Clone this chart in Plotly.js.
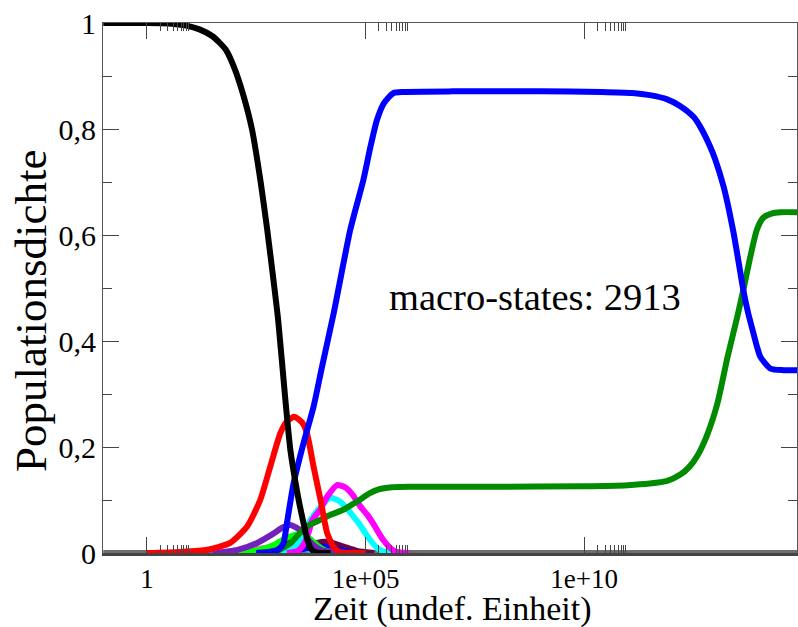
<!DOCTYPE html>
<html>
<head>
<meta charset="utf-8">
<script src="https://cdn.plot.ly/plotly-3.0.1.min.js"></script>
<style>html,body{margin:0;padding:0;background:#fff;}#chart{width:798px;height:627px;}</style>
</head>
<body>
<div id="chart"></div>
<script>
// log10(time) sample positions and population densities
const blackT = [-1, 0, 0.5, 0.9, 1.2, 1.5, 1.8, 2.0, 2.2, 2.4, 2.6, 2.75, 2.9, 3.0, 3.16, 3.28, 3.44, 3.55, 3.67, 3.75, 3.85, 4.0, 4.2];
const blackY = [1, 1, 0.999, 0.995, 0.988, 0.975, 0.95, 0.915, 0.865, 0.8, 0.7, 0.61, 0.51, 0.44, 0.294, 0.194, 0.113, 0.068, 0.025, 0.008, 0.002, 0, 0];

const redT = [0, 0.76, 1.38, 1.9, 2.29, 2.59, 2.82, 3.05, 3.2, 3.37, 3.55, 3.66, 3.81, 3.97, 4.12, 4.27, 4.42, 4.7, 5];
const redY = [0, 0.002, 0.006, 0.019, 0.05, 0.1, 0.163, 0.226, 0.248, 0.257, 0.246, 0.226, 0.163, 0.1, 0.038, 0.011, 0.002, 0, 0];

const blueT = [2.5, 2.8, 3.0, 3.12, 3.2, 3.35, 3.58, 3.81, 4.0, 4.27, 4.65, 4.95, 5.11, 5.26, 5.42, 5.64, 5.87, 7, 9, 10.4, 11.1, 11.5, 11.9, 12.2, 12.5, 12.65, 12.88, 13.0, 13.19, 13.3, 13.42, 13.53, 13.64, 13.75, 13.87, 13.95, 14.03, 14.26, 14.56, 14.87];
const blueY = [0, 0.002, 0.006, 0.018, 0.056, 0.13, 0.207, 0.276, 0.35, 0.452, 0.61, 0.704, 0.766, 0.817, 0.849, 0.868, 0.87, 0.871, 0.871, 0.87, 0.868, 0.864, 0.856, 0.843, 0.823, 0.805, 0.767, 0.742, 0.691, 0.652, 0.603, 0.55, 0.496, 0.453, 0.415, 0.39, 0.37, 0.348, 0.345, 0.345];

const greenT = [2.5, 3.0, 3.3, 3.5, 3.7, 4.0, 4.2, 4.5, 4.8, 5.1, 5.3, 5.6, 6, 8, 10, 11, 11.5, 11.9, 12.2, 12.4, 12.6, 12.8, 13.05, 13.28, 13.5, 13.65, 13.8, 13.95, 14.1, 14.3, 14.5, 14.87];
const greenY = [0, 0.005, 0.02, 0.038, 0.052, 0.064, 0.072, 0.082, 0.097, 0.113, 0.12, 0.124, 0.125, 0.125, 0.126, 0.128, 0.131, 0.136, 0.148, 0.162, 0.185, 0.22, 0.283, 0.37, 0.445, 0.5, 0.559, 0.61, 0.633, 0.641, 0.643, 0.643];

const magentaT = [3.2, 3.45, 3.6, 3.7, 3.77, 3.87, 3.97, 4.12, 4.35, 4.55, 4.72, 4.88, 5.04, 5.18, 5.3, 5.41, 5.57, 5.7, 6];
const magentaY = [0, 0.004, 0.018, 0.04, 0.06, 0.072, 0.083, 0.106, 0.128, 0.123, 0.108, 0.088, 0.072, 0.055, 0.038, 0.024, 0.009, 0.002, 0];

const cyanT = [3.0, 3.3, 3.45, 3.58, 3.74, 3.97, 4.19, 4.4, 4.58, 4.73, 4.88, 5.0, 5.1, 5.26, 5.4, 5.7];
const cyanY = [0, 0.006, 0.018, 0.037, 0.062, 0.087, 0.104, 0.098, 0.083, 0.068, 0.052, 0.037, 0.025, 0.01, 0.003, 0];

const indigoT = [1.5, 2.07, 2.52, 2.9, 3.1, 3.28, 3.51, 3.74, 3.97, 4.3, 4.8];
const indigoY = [0, 0.006, 0.019, 0.037, 0.048, 0.053, 0.043, 0.02, 0.006, 0.001, 0];

const limeT = [2.0, 2.6, 2.9, 3.15, 3.45, 3.7, 3.9, 4.1, 4.5];
const limeY = [0, 0.006, 0.015, 0.027, 0.035, 0.028, 0.014, 0.004, 0];

const rosyT = [1.8, 2.4, 2.9, 3.3, 3.7, 4.0, 4.3, 4.7, 5.2];
const rosyY = [0, 0.006, 0.012, 0.016, 0.017, 0.014, 0.009, 0.003, 0];

const maroonT = [3.0, 3.5, 3.8, 4.0, 4.2, 4.5, 4.8, 5.2];
const maroonY = [0, 0.008, 0.017, 0.021, 0.02, 0.012, 0.004, 0];

const turquoiseT = [1.5, 2.2, 2.8, 3.2, 3.6, 4.0, 4.5];
const turquoiseY = [0, 0.004, 0.009, 0.011, 0.008, 0.003, 0];

const smallBlueT = [3.0, 3.6, 4.0, 4.3, 4.7];
const smallBlueY = [0, 0.008, 0.012, 0.008, 0];

const smallBlackT = [2.6, 3.0, 3.3, 3.6, 3.9, 4.3];
const smallBlackY = [0, 0.012, 0.02, 0.018, 0.008, 0];

const restT = [-1, 3, 6, 10, 14.87];
const restY = [0, 0, 0, 0, 0];

// axis ticks
const xTickVals = [1, 1e5, 1e10];
const xTickText = ["1", "1e+05", "1e+10"];
const xMinorVals = [2, 3, 4, 5, 6, 7, 8, 9, 2e5, 3e5, 4e5, 5e5, 6e5, 7e5, 8e5, 9e5, 2e10, 3e10, 4e10, 5e10, 6e10, 7e10, 8e10, 9e10];

const toTime = ts => ts.map(t => Math.pow(10, t));

function series(t, y, color, width) {
  return {
    x: toTime(t), y: y, type: 'scatter', mode: 'lines',
    line: {color: color, width: width || 6, shape: 'spline', smoothing: 0.6},
    hoverinfo: 'skip', showlegend: false
  };
}

const traces = [
  series(restT, restY, '#6e6e6e', 6),
  series(turquoiseT, turquoiseY, '#40e0d0'),
  series(rosyT, rosyY, '#bc8f8f'),
  series(maroonT, maroonY, '#670748'),
  series(smallBlueT, smallBlueY, '#0000ff'),
  series(smallBlackT, smallBlackY, '#000000'),
  series(limeT, limeY, '#00ff00'),
  series(indigoT, indigoY, '#7221bc'),
  series(cyanT, cyanY, '#00ffff'),
  series(magentaT, magentaY, '#ff00ff'),
  series(greenT, greenY, '#008b00'),
  series(redT, redY, '#ff0000'),
  series(blueT, blueY, '#0000ff'),
  series(blackT, blackY, '#000000')
];

const xRange = [-1.006, 14.868];
const serif = 'Liberation Serif, Times New Roman, serif';

const layout = {
  width: 798, height: 627,
  margin: {l: 103, r: 1, t: 23, b: 74},
  paper_bgcolor: '#ffffff', plot_bgcolor: '#ffffff',
  separators: ',.',
  font: {family: serif, color: '#000000', size: 29},
  showlegend: false,
  xaxis: {
    type: 'log', range: xRange,
    tickmode: 'array', tickvals: xTickVals, ticktext: xTickText,
    ticks: 'inside', ticklen: 16, tickwidth: 1, tickcolor: '#444',
    showline: true, linecolor: '#444', linewidth: 3, mirror: false,
    showgrid: false, zeroline: false,
    tickfont: {family: serif, size: 27, color: '#000'},
    minor: {tickmode: 'array', tickvals: xMinorVals, ticks: 'inside', ticklen: 8, tickwidth: 1, tickcolor: '#444', showgrid: false}
  },
  xaxis2: {
    type: 'log', range: xRange, overlaying: 'x', side: 'top', anchor: 'y',
    tickmode: 'array', tickvals: xTickVals, showticklabels: false,
    ticks: 'inside', ticklen: 16, tickwidth: 1, tickcolor: '#444',
    showline: true, linecolor: '#555', linewidth: 1,
    showgrid: false, zeroline: false,
    minor: {tickmode: 'array', tickvals: xMinorVals, ticks: 'inside', ticklen: 8, tickwidth: 1, tickcolor: '#444', showgrid: false}
  },
  yaxis: {
    range: [0, 1], dtick: 0.2, tick0: 0,
    ticks: 'inside', ticklen: 16, tickwidth: 1, tickcolor: '#444',
    showline: true, linecolor: '#555', linewidth: 1, mirror: 'ticks',
    showgrid: false, zeroline: false,
    tickfont: {family: serif, size: 30, color: '#000'},
    minor: {dtick: 0.1, ticks: 'inside', ticklen: 9, tickwidth: 1, tickcolor: '#444', showgrid: false}
  },
  annotations: [
    {
      xref: 'paper', yref: 'paper',
      x: (387 - 103) / 694, y: (553 - 297) / 530,
      xanchor: 'left', yanchor: 'middle',
      text: 'macro-states: 2913', showarrow: false,
      font: {family: serif, size: 38.5, color: '#000'}
    },
    {
      xref: 'paper', yref: 'paper',
      x: (31 - 103) / 694, y: (553 - 311) / 530,
      xanchor: 'center', yanchor: 'middle', textangle: -90,
      text: 'Populationsdichte', showarrow: false,
      font: {family: serif, size: 45, color: '#000'}
    },
    {
      xref: 'paper', yref: 'paper',
      x: (452 - 103) / 694, y: (553 - 629) / 530,
      xanchor: 'center', yanchor: 'bottom', borderpad: 0,
      text: 'Zeit (undef. Einheit)', showarrow: false,
      font: {family: serif, size: 34, color: '#000'}
    }
  ]
};

// invisible point to bind the top axis
traces.push({x: [1], y: [0], xaxis: 'x2', yaxis: 'y', type: 'scatter', mode: 'markers', marker: {opacity: 0}, hoverinfo: 'skip', showlegend: false});

Plotly.newPlot('chart', traces, layout, {staticPlot: true, displayModeBar: false});
</script>
</body>
</html>
